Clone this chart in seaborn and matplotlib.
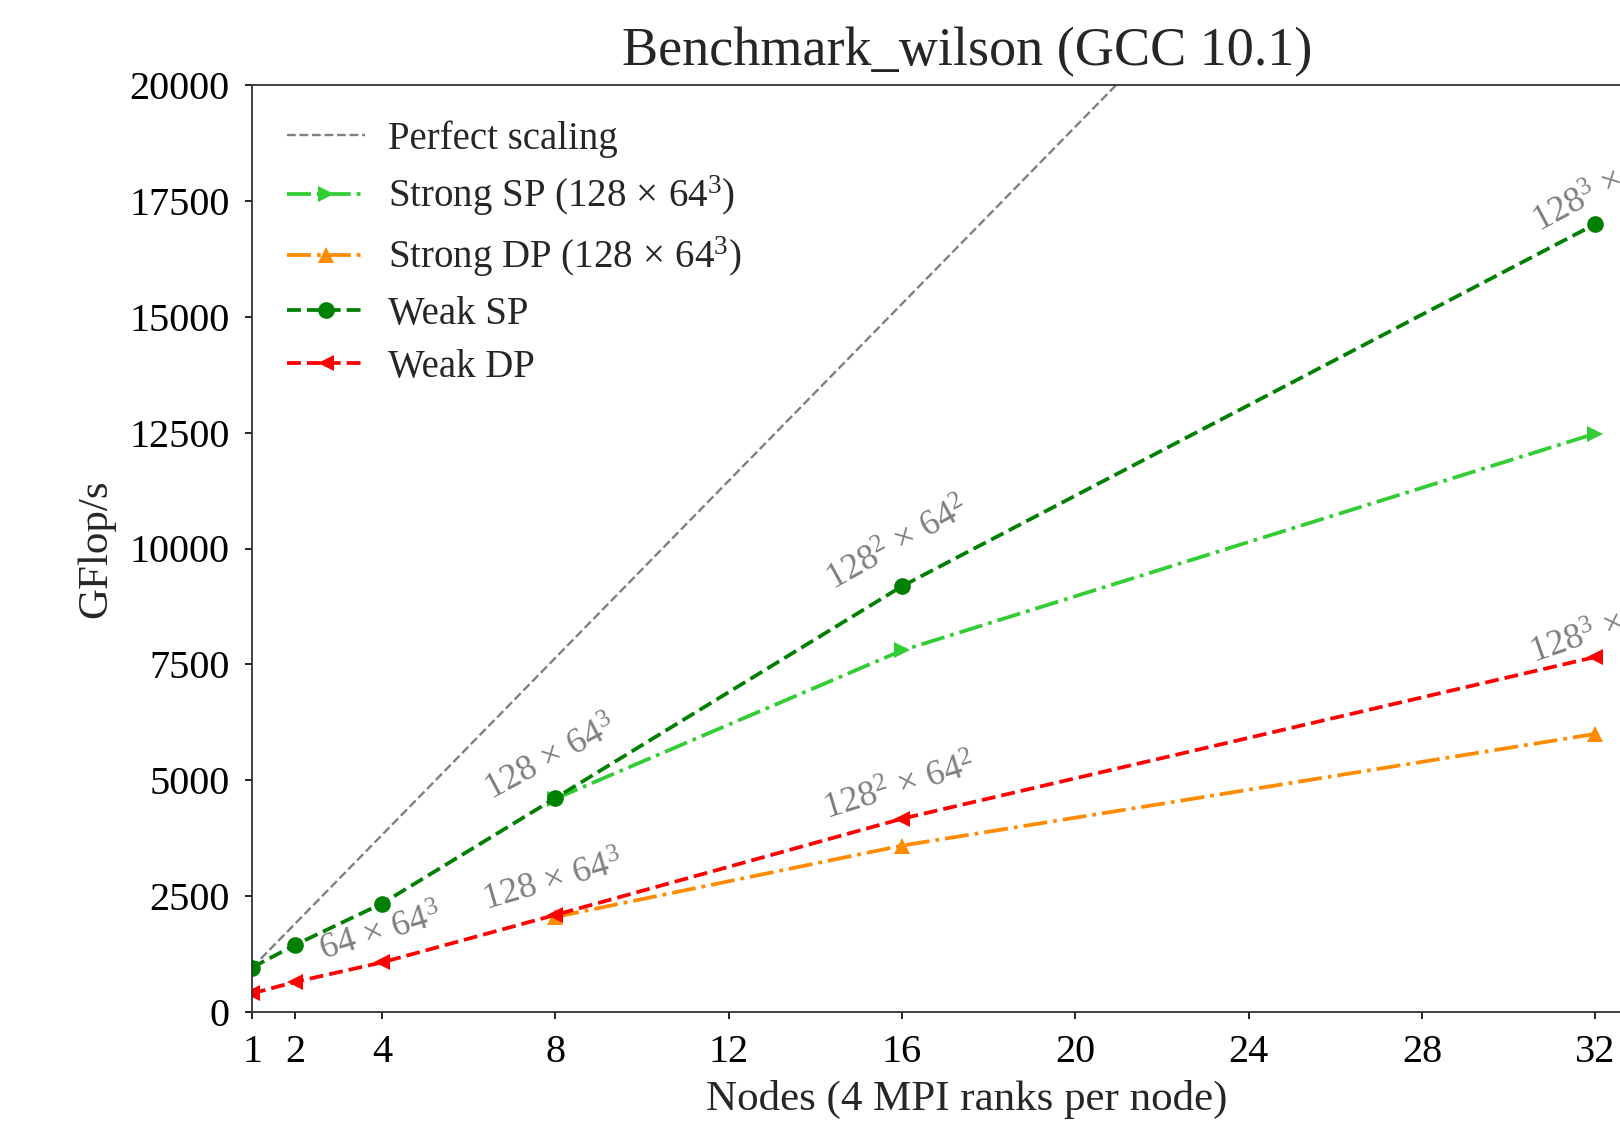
import matplotlib
matplotlib.use("Agg")
import matplotlib.pyplot as plt
import seaborn as sns

# ---- data ----
weak_nodes = [1, 2, 4, 8, 16, 32]
weak_sp = [960, 1450, 2340, 4615, 9186, 17000]
weak_dp = [400, 650, 1070, 2095, 4170, 7660]

strong_nodes = [8, 16, 32]
strong_sp = [4600, 7800, 12480]
strong_dp = [2050, 3590, 6000]

perfect_nodes = [1, 32]
perfect_gflops = [955, 30560]

x_ticks = [1, 2, 4, 8, 12, 16, 20, 24, 28, 32]
y_ticks = [0, 2500, 5000, 7500, 10000, 12500, 15000, 17500, 20000]

lattice_labels = [r"$64 \,\times\, 64^3$", r"$128 \,\times\, 64^3$", r"$128 \,\times\, 64^3$",
                  r"$128^2 \,\times\, 64^2$", r"$128^2 \,\times\, 64^2$",
                  r"$128^3 \,\times\, 64$", r"$128^3 \,\times\, 64$"]
label_x = [3.98, 7.94, 7.91, 15.93, 15.95, 32.1, 32.1]
label_y = [1672, 2787, 5440, 10056, 4816, 17700, 8200]
label_rot = [17, 16, 28, 29, 17, 28, 19]

# ---- style ----
sns.set_theme(style="ticks")
plt.rcParams["font.family"] = ["Liberation Serif", "DejaVu Serif"]
plt.rcParams["mathtext.fontset"] = "custom"
plt.rcParams["mathtext.rm"] = "Liberation Serif"
plt.rcParams["mathtext.it"] = "Liberation Serif:italic"
plt.rcParams["mathtext.default"] = "rm"

fig = plt.figure(figsize=(16.2, 11.26), dpi=100)
ax = fig.add_axes([252 / 1620, 114 / 1126, 1430 / 1620, 927 / 1126])

lw = 2.7
ms = 12
sns.lineplot(x=perfect_nodes, y=perfect_gflops, ax=ax, color="gray",
             linestyle="--", linewidth=1.7, label="Perfect scaling")
sns.lineplot(x=strong_nodes, y=strong_sp, ax=ax, color="limegreen",
             linestyle="-.", marker=">", markersize=ms, markeredgewidth=0,
             linewidth=lw, label=r"Strong SP ($128 \,\times\, 64^3$)")
sns.lineplot(x=strong_nodes, y=strong_dp, ax=ax, color="darkorange",
             linestyle="-.", marker="^", markersize=ms, markeredgewidth=0,
             linewidth=lw, label=r"Strong DP ($128 \,\times\, 64^3$)")
sns.lineplot(x=weak_nodes, y=weak_sp, ax=ax, color="green",
             linestyle="--", marker="o", markersize=ms, markeredgewidth=0,
             linewidth=lw, label="Weak SP")
sns.lineplot(x=weak_nodes, y=weak_dp, ax=ax, color="red",
             linestyle="--", marker="<", markersize=ms, markeredgewidth=0,
             linewidth=lw, label="Weak DP")

for t, x, y, r in zip(lattice_labels, label_x, label_y, label_rot):
    ax.text(x, y, t, rotation=r, ha="center", va="center",
            color="gray", fontsize=26)

ax.set_xlim(1, 34)
ax.set_ylim(0, 20000)
ax.set_xticks(x_ticks)
ax.set_yticks(y_ticks)
ax.tick_params(axis="both", labelsize=29, length=5, width=1.2, pad=11,
               direction="out", colors="black")
for s in ax.spines.values():
    s.set_linewidth(1.3)
    s.set_color("#333333")
ax.spines["right"].set_visible(False)

ax.set_xlabel("Nodes (4 MPI ranks per node)", fontsize=31, labelpad=6)
ax.set_ylabel("GFlop/s", fontsize=31, labelpad=10)
ax.set_title("Benchmark_wilson (GCC 10.1)", fontsize=39, pad=14)

leg = ax.legend(loc="upper left", frameon=False, fontsize=28,
                handlelength=2.0, labelspacing=0.42, handletextpad=0.6,
                borderaxespad=0.5)

fig.savefig("out.png", dpi=100)
